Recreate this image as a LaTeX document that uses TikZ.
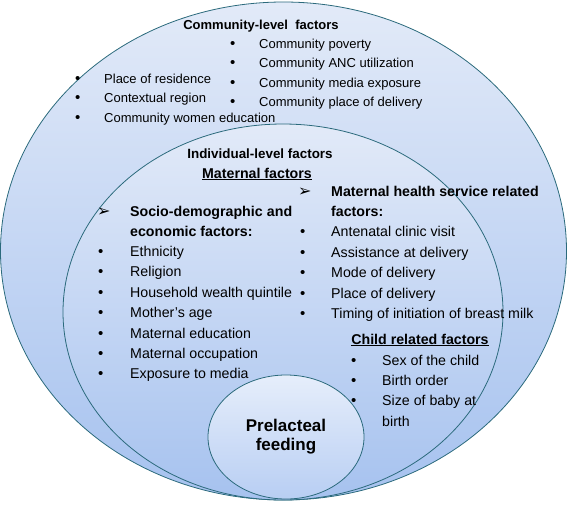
\documentclass[tikz,border=0pt]{standalone}
\usepackage{fontspec}
\setmainfont{Liberation Sans}
\newfontfamily\dingfont{DejaVu Sans}
\definecolor{edgec}{HTML}{2B6A7C}
\definecolor{topc}{HTML}{E2EAF8}
\definecolor{botc}{HTML}{A6C2EF}
\definecolor{topcs}{HTML}{E6EEFB}
\definecolor{botcs}{HTML}{B8CEF3}
\newcommand{\bul}[1]{\makebox[#1][l]{\hspace*{0.3pt}{\fontsize{15}{15}\selectfont\textbullet}}}
\newcommand{\arw}[1]{\makebox[#1][l]{{\dingfont\fontsize{16}{16}\selectfont ➢}}}
\tikzset{
  circ/.style={ellipse, draw=edgec, line width=0.8pt, top color=topc, bottom color=botc, inner sep=0pt},
  txt/.style={anchor=base west, inner sep=0pt, font=\fontsize{13}{15}\selectfont},
  itxt/.style={anchor=base west, inner sep=0pt, font=\fontsize{14.2}{16}\selectfont},
  hd/.style={anchor=base, inner sep=0pt, font=\fontsize{13}{15}\selectfont\bfseries},
  ihd/.style={anchor=base, inner sep=0pt, font=\fontsize{14.2}{16}\selectfont\bfseries},
}
\usetikzlibrary{shapes.geometric}
\begin{document}
\begin{tikzpicture}[x=1pt,y=-1pt]
\useasboundingbox (0,0) rectangle (567,504);
\node[circ, minimum width=566pt, minimum height=498pt] (outer) at (283.5,251) {};
\node[circ, minimum width=440pt, minimum height=376pt] (inner) at (283,312) {};
\node[circ, top color=topcs, bottom color=botcs, minimum width=156pt, minimum height=124pt] (core) at (286,437) {};

% community level
\node[hd] (comh) at (261,29) {Community-level\ \ factors};
\node[txt] (c1) at (229.7,48.5) {\bul{29.3pt}Community poverty};
\node[txt] (c2) at (229.7,67.5) {\bul{29.3pt}Community ANC utilization};
\node[txt] (c3) at (229.7,87.5) {\bul{29.3pt}Community media exposure};
\node[txt] (c4) at (229.7,106.5) {\bul{29.3pt}Community place of delivery};
\node[txt] (c5) at (74.7,83.5) {\bul{29.3pt}Place of residence};
\node[txt] (c6) at (74.7,102.5) {\bul{29.3pt}Contextual region};
\node[txt] (c7) at (74.7,122.5) {\bul{29.3pt}Community women education};

% individual level
\node[hd, font=\fontsize{13.4}{15}\selectfont\bfseries] (indh) at (260,158.5) {Individual-level factors};
\node[ihd] (math) at (257,178) {\underline{Maternal factors}};

\node[itxt] (s0) at (97,216) {\arw{33pt}\makebox[162pt][l]{\bfseries Socio-demographic\hfill and}};
\node[itxt] (s0b) at (130,236) {\bfseries economic factors:};
\node[itxt] (s1) at (97.5,256.5) {\bul{32.5pt}Ethnicity};
\node[itxt] (s2) at (97.5,276.5) {\bul{32.5pt}Religion};
\node[itxt] (s3) at (97.5,297) {\bul{32.5pt}Household wealth quintile};
\node[itxt] (s4) at (97.5,317.5) {\bul{32.5pt}Mother’s age};
\node[itxt] (s5) at (97.5,338) {\bul{32.5pt}Maternal education};
\node[itxt] (s6) at (97.5,358) {\bul{32.5pt}Maternal occupation};
\node[itxt] (s7) at (97.5,378.5) {\bul{32.5pt}Exposure to media};

\node[itxt] (m0) at (298,196.5) {\arw{33pt}\bfseries Maternal health service related};
\node[itxt] (m0b) at (331,216) {\bfseries factors:};
\node[itxt] (m1) at (299.5,236.5) {\bul{31.5pt}Antenatal clinic visit};
\node[itxt] (m2) at (299.5,257.5) {\bul{31.5pt}Assistance at delivery};
\node[itxt] (m3) at (299.5,277.5) {\bul{31.5pt}Mode of delivery};
\node[itxt] (m4) at (299.5,298) {\bul{31.5pt}Place of delivery};
\node[itxt] (m5) at (299.5,318) {\bul{31.5pt}Timing of initiation of breast milk};

\node[ihd] (chh) at (420,344) {\underline{Child related factors}};
\node[itxt] (k1) at (350.5,365) {\bul{31.5pt}Sex of the child};
\node[itxt] (k2) at (350.5,385) {\bul{31.5pt}Birth order};
\node[itxt] (k3) at (350.5,405.5) {\bul{31.5pt}Size of baby at};
\node[itxt] (k3b) at (382,426) {birth};

\node[align=center, inner sep=0pt, font=\fontsize{17}{19}\selectfont\bfseries] (pf) at (286,437) {Prelacteal\\feeding};
\end{tikzpicture}
\end{document}
